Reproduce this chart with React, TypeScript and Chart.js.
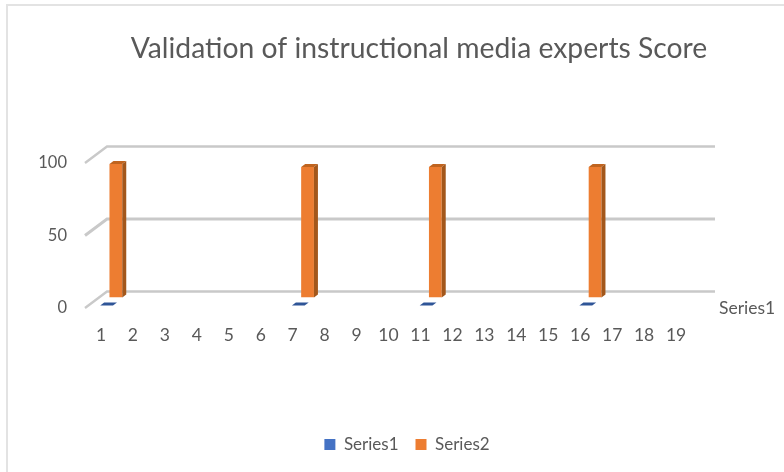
import React, { useEffect, useRef } from "react";
import { Chart, registerables } from "chart.js";

Chart.register(...registerables);

const categories = ["1","2","3","4","5","6","7","8","9","10","11","12","13","14","15","16","17","18","19"];
const series1 = [0,null,null,null,null,null,0,null,null,null,0,null,null,null,null,0,null,null,null];
const series2 = [92,null,null,null,null,null,90,null,null,null,90,null,null,null,null,90,null,null,null];
const titleText = "Validation of instructional media experts Score";
const depthLabel = "Series1";

const FONT = "Lato, Carlito, Calibri, sans-serif";
const GREY = "#595959";

const shiftOut: Record<number, { dx: number; dy: number }> = {
  0: { dx: 12, dy: -2.5 },
  1: { dx: 8.5, dy: -10.5 },
};

const plugin3d = {
  id: "plugin3d",
  afterLayout(chart: any) {
    const t = chart.titleBlock;
    if (t) { t.left += 27; t.right += 27; }
    const l = chart.legend;
    if (l) { l.left += 15; l.right += 15; }
  },
  beforeDatasetsDraw(chart: any) {
    const { ctx, chartArea, scales } = chart;
    const y = scales.y;
    ctx.save();
    ctx.strokeStyle = "#c9c9c9";
    y.ticks.forEach((t: any) => {
      const p = y.getPixelForValue(t.value);
      ctx.lineWidth = t.value === 50 ? 3 : 2.4;
      ctx.beginPath();
      ctx.moveTo(chartArea.left, p);
      ctx.lineTo(chartArea.left + 22, p - 16.5);
      ctx.lineTo(chartArea.right + 23, p - 16.5);
      ctx.stroke();
    });
    ctx.restore();
  },
  beforeDatasetDraw(chart: any, args: any) {
    const { ctx } = chart;
    const s = shiftOut[args.index];
    ctx.save();
    ctx.translate(s.dx, s.dy);
  },
  afterDatasetDraw(chart: any, args: any) {
    const { ctx } = chart;
    const dx = 4, dy = -3;
    args.meta.data.forEach((el: any, i: number) => {
      const v = chart.data.datasets[args.index].data[i];
      if (v === null) return;
      const { x, y, base, width } = el.getProps(["x", "y", "base", "width"], true);
      const l = x - width / 2, r = x + width / 2;
      const top = args.index === 0 ? "#2f5597" : "#c0641f";
      ctx.fillStyle = top;
      ctx.beginPath();
      ctx.moveTo(l, y);
      ctx.lineTo(l + dx, y + dy);
      ctx.lineTo(r + dx, y + dy);
      ctx.lineTo(r, y);
      ctx.closePath();
      ctx.fill();
      if (args.index === 1) {
        ctx.fillStyle = "#a3571b";
        ctx.beginPath();
        ctx.moveTo(r, y);
        ctx.lineTo(r + dx, y + dy);
        ctx.lineTo(r + dx, base + dy);
        ctx.lineTo(r, base);
        ctx.closePath();
        ctx.fill();
      }
    });
    ctx.restore();
  },
};

export default function App() {
  const ref = useRef<HTMLCanvasElement | null>(null);
  useEffect(() => {
    document.body.style.margin = "0";
    const chart = new Chart(ref.current as HTMLCanvasElement, {
      type: "bar",
      data: {
        labels: categories,
        datasets: [
          { label: "Series1", data: series1, backgroundColor: "#4472c4", categoryPercentage: 0.8, barPercentage: 1 },
          { label: "Series2", data: series2, backgroundColor: "#ed7d31", categoryPercentage: 0.8, barPercentage: 1 },
        ],
      },
      options: {
        responsive: false,
        animation: false,
        layout: { padding: { bottom: 9 } },
        plugins: {
          title: {
            display: true,
            text: titleText,
            color: GREY,
            font: { family: FONT, size: 28.3, weight: "normal" },
            padding: { top: 32, bottom: 97 },
          },
          legend: {
            position: "bottom",
            labels: { color: GREY, font: { family: FONT, size: 17 }, boxWidth: 11, boxHeight: 11, padding: 17 },
          },
          tooltip: { enabled: false },
        },
        scales: {
          x: {
            grid: { display: false },
            border: { display: false },
            ticks: { color: GREY, font: { family: FONT, size: 17.5 }, padding: 9, maxRotation: 0, autoSkip: false },
            afterFit(s: any) { s.height = 111; },
          },
          y: {
            min: 0, max: 100,
            grid: { display: false },
            border: { display: false },
            ticks: { stepSize: 50, color: GREY, font: { family: FONT, size: 16.5 }, padding: 10 },
            afterFit(s: any) { s.width = 85; },
          },
          y1: {
            position: "right",
            min: 0, max: 100,
            grid: { display: false },
            border: { display: false },
            ticks: {
              stepSize: 50, color: GREY, font: { family: FONT, size: 17.5 }, padding: 19,
              callback: (v: any) => (v === 0 ? depthLabel : ""),
            },
            afterFit(s: any) { s.width = 92; },
          },
        },
      } as any,
      plugins: [plugin3d as any],
    });
    return () => chart.destroy();
  }, []);
  return (
    <div style={{ position: "relative", width: 784, height: 472, overflow: "hidden", background: "#fff" }}>
      <div style={{ position: "absolute", left: 6, top: 4, right: -4, bottom: -4, border: "2px solid #e3e3e3", boxSizing: "border-box" }} />
      <canvas ref={ref} width={784} height={472} style={{ position: "absolute", left: 0, top: 0, display: "block" }} />
    </div>
  );
}
